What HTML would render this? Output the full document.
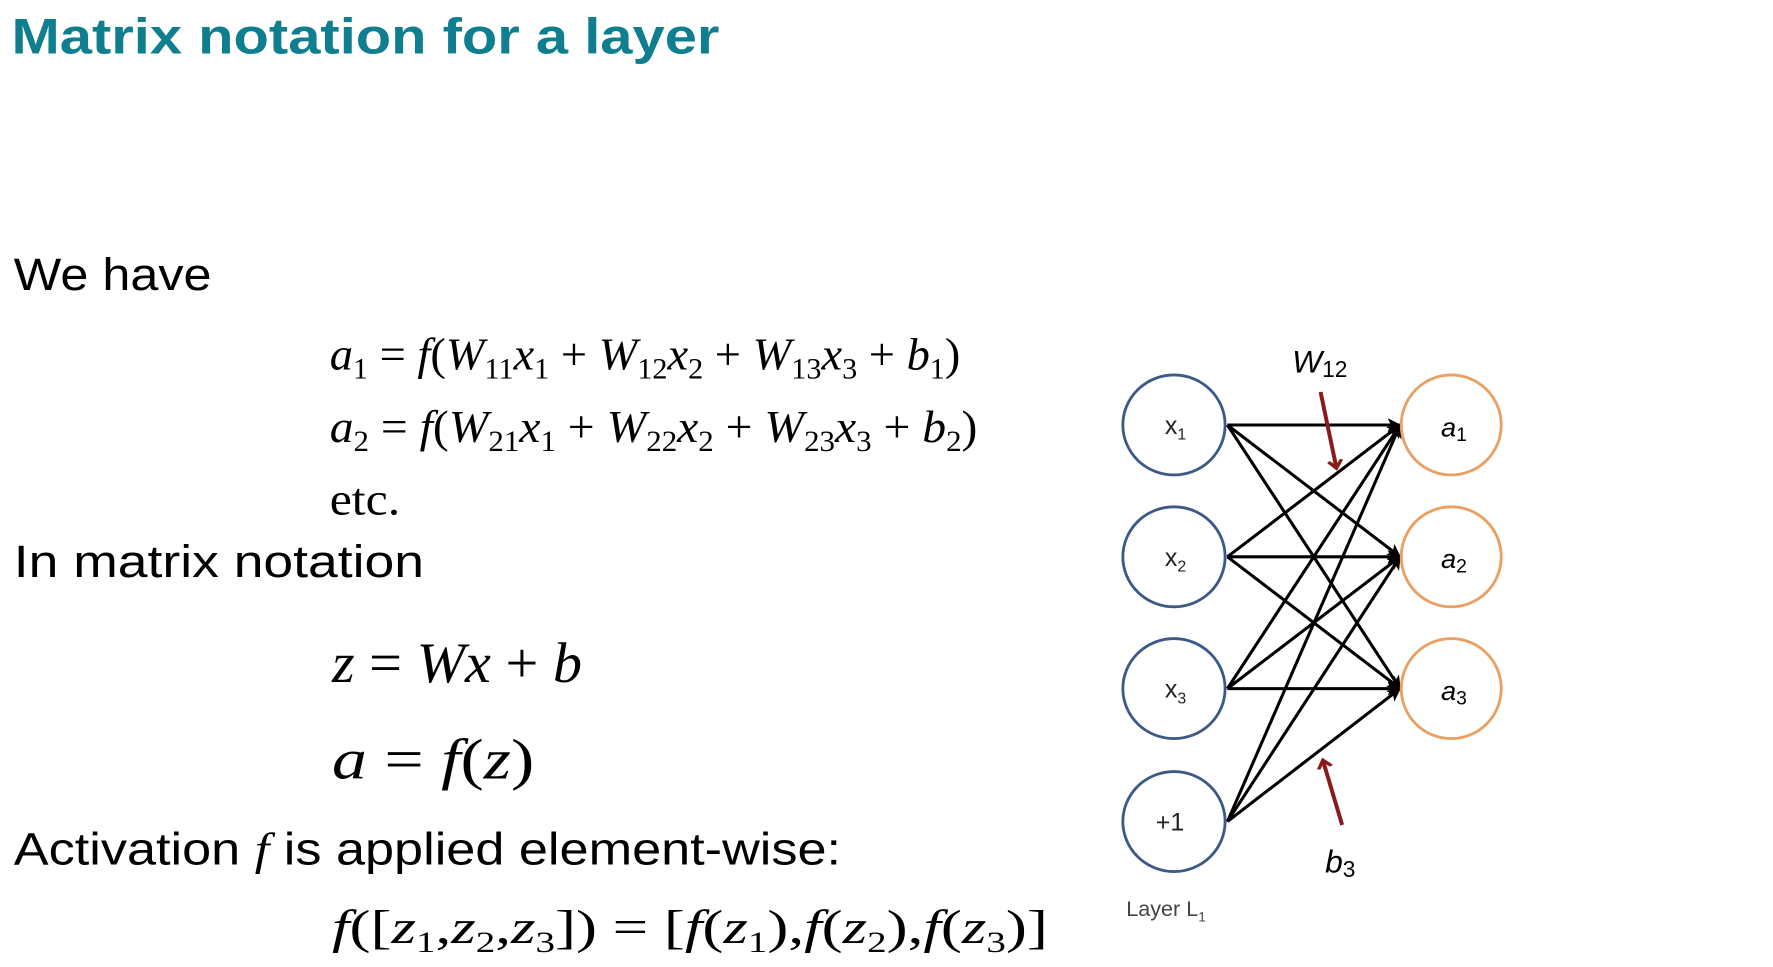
<!DOCTYPE html>
<html><head><meta charset="utf-8"><style>
html,body{margin:0;padding:0;background:#fff;width:1773px;height:967px;overflow:hidden}
svg{display:block}
.s{font-family:"Liberation Sans",sans-serif}
.m{font-family:"Liberation Serif",serif;font-style:italic}
.r{font-style:normal}
</style></head><body>
<svg width="1773" height="967" viewBox="0 0 1560 851" xmlns="http://www.w3.org/2000/svg">
<defs>
<marker id="ah" markerWidth="12" markerHeight="12" refX="11" refY="6" orient="auto" markerUnits="userSpaceOnUse"><path d="M0,0 L12,6 L0,12 L3,6 Z" fill="#000"/></marker>
<marker id="rh" markerWidth="14" markerHeight="14" refX="7" refY="7" orient="auto" markerUnits="userSpaceOnUse"><path d="M0,1 L7,7 L0,13" fill="none" stroke="#8b1a1a" stroke-width="3"/></marker>
</defs>
<text class="s" x="10" y="47" font-size="44" font-weight="bold" fill="#0f7f8f" textLength="623" lengthAdjust="spacingAndGlyphs">Matrix notation for a layer</text>
<text class="s" x="12" y="255" font-size="40" textLength="174" lengthAdjust="spacingAndGlyphs">We have</text>

<text class="m" x="290" y="325" font-size="40" textLength="555" lengthAdjust="spacingAndGlyphs">a<tspan font-size="26" dy="8" class="r">1</tspan><tspan dy="-8" class="r"> = </tspan>f<tspan class="r">(</tspan>W<tspan font-size="26" dy="8" class="r">11</tspan><tspan dy="-8">x</tspan><tspan font-size="26" dy="8" class="r">1</tspan><tspan dy="-8" class="r"> + </tspan>W<tspan font-size="26" dy="8" class="r">12</tspan><tspan dy="-8">x</tspan><tspan font-size="26" dy="8" class="r">2</tspan><tspan dy="-8" class="r"> + </tspan>W<tspan font-size="26" dy="8" class="r">13</tspan><tspan dy="-8">x</tspan><tspan font-size="26" dy="8" class="r">3</tspan><tspan dy="-8" class="r"> + </tspan>b<tspan font-size="26" dy="8" class="r">1</tspan><tspan dy="-8" class="r">)</tspan></text>
<text class="m" x="290" y="389" font-size="40" textLength="570" lengthAdjust="spacingAndGlyphs">a<tspan font-size="26" dy="8" class="r">2</tspan><tspan dy="-8" class="r"> = </tspan>f<tspan class="r">(</tspan>W<tspan font-size="26" dy="8" class="r">21</tspan><tspan dy="-8">x</tspan><tspan font-size="26" dy="8" class="r">1</tspan><tspan dy="-8" class="r"> + </tspan>W<tspan font-size="26" dy="8" class="r">22</tspan><tspan dy="-8">x</tspan><tspan font-size="26" dy="8" class="r">2</tspan><tspan dy="-8" class="r"> + </tspan>W<tspan font-size="26" dy="8" class="r">23</tspan><tspan dy="-8">x</tspan><tspan font-size="26" dy="8" class="r">3</tspan><tspan dy="-8" class="r"> + </tspan>b<tspan font-size="26" dy="8" class="r">2</tspan><tspan dy="-8" class="r">)</tspan></text>
<text x="290" y="453" font-size="40" font-family="Liberation Serif,serif" textLength="62" lengthAdjust="spacingAndGlyphs">etc.</text>
<text class="s" x="12" y="508" font-size="40" textLength="361" lengthAdjust="spacingAndGlyphs">In matrix notation</text>
<text class="m" x="292" y="600" font-size="50" textLength="220" lengthAdjust="spacingAndGlyphs">z<tspan class="r"> = </tspan>Wx<tspan class="r"> + </tspan>b</text>
<text class="m" x="292" y="685" font-size="50" textLength="178" lengthAdjust="spacingAndGlyphs">a<tspan class="r"> = </tspan>f<tspan class="r">(</tspan>z<tspan class="r">)</tspan></text>
<text class="s" x="12" y="761" font-size="40" textLength="728" lengthAdjust="spacingAndGlyphs">Activation <tspan font-style="italic" font-family="Liberation Serif,serif">f</tspan> is applied element-wise:</text>
<text class="m" x="292" y="830" font-size="42" textLength="630" lengthAdjust="spacingAndGlyphs">f<tspan class="r">([</tspan>z<tspan font-size="26" dy="8" class="r">1</tspan><tspan dy="-8" class="r">,</tspan>z<tspan font-size="26" dy="8" class="r">2</tspan><tspan dy="-8" class="r">,</tspan>z<tspan font-size="26" dy="8" class="r">3</tspan><tspan dy="-8" class="r">]) = [</tspan>f<tspan class="r">(</tspan>z<tspan font-size="26" dy="8" class="r">1</tspan><tspan dy="-8" class="r">),</tspan>f<tspan class="r">(</tspan>z<tspan font-size="26" dy="8" class="r">2</tspan><tspan dy="-8" class="r">),</tspan>f<tspan class="r">(</tspan>z<tspan font-size="26" dy="8" class="r">3</tspan><tspan dy="-8" class="r">)]</tspan></text>

<g transform="translate(-5,-2)">
<g stroke="#000" stroke-width="2.7" marker-end="url(#ah)" fill="none">
<line x1="1085" y1="376" x2="1237" y2="376"/><line x1="1085" y1="376" x2="1237" y2="492"/><line x1="1085" y1="376" x2="1237" y2="608"/>
<line x1="1085" y1="492" x2="1237" y2="376"/><line x1="1085" y1="492" x2="1237" y2="492"/><line x1="1085" y1="492" x2="1237" y2="608"/>
<line x1="1085" y1="608" x2="1237" y2="376"/><line x1="1085" y1="608" x2="1237" y2="492"/><line x1="1085" y1="608" x2="1237" y2="608"/>
<line x1="1085" y1="725" x2="1237" y2="376"/><line x1="1085" y1="725" x2="1237" y2="492"/><line x1="1085" y1="725" x2="1237" y2="608"/>
</g>
<g fill="#fff" stroke="#3c5a88" stroke-width="2.5">
<ellipse cx="1038" cy="376" rx="45" ry="44"/><ellipse cx="1038" cy="492" rx="45" ry="44"/><ellipse cx="1038" cy="608" rx="45" ry="44"/><ellipse cx="1038" cy="725" rx="45" ry="44"/>
</g>
<g fill="#fff" stroke="#e9a062" stroke-width="2.5">
<ellipse cx="1282" cy="376" rx="44" ry="44"/><ellipse cx="1282" cy="492" rx="44" ry="44"/><ellipse cx="1282" cy="608" rx="44" ry="44"/>
</g>
<g class="s" font-size="22" fill="#222">
<text x="1030" y="384">x<tspan font-size="14" dy="5">1</tspan></text>
<text x="1030" y="500">x<tspan font-size="14" dy="5">2</tspan></text>
<text x="1030" y="616">x<tspan font-size="14" dy="5">3</tspan></text>
<text x="1022" y="733">+1</text>
<text x="996" y="808" font-size="19" fill="#444">Layer L<tspan font-size="12" dy="5">1</tspan></text>
</g>
<g class="s" font-size="24" font-style="italic" fill="#000">
<text x="1273" y="386">a<tspan font-size="17" dy="4" font-style="normal">1</tspan></text>
<text x="1273" y="502">a<tspan font-size="17" dy="4" font-style="normal">2</tspan></text>
<text x="1273" y="618">a<tspan font-size="17" dy="4" font-style="normal">3</tspan></text>
<text x="1142" y="330" font-size="28">W<tspan font-size="20" dy="4" font-style="normal">12</tspan></text>
<text x="1171" y="770" font-size="28">b<tspan font-size="20" dy="4" font-style="normal">3</tspan></text>
</g>
<g stroke="#8b1a1a" stroke-width="3.5" marker-end="url(#rh)">
<line x1="1167" y1="347" x2="1181" y2="414"/>
<line x1="1186" y1="728" x2="1169" y2="671"/>
</g>
</g>
</svg>
</body></html>
